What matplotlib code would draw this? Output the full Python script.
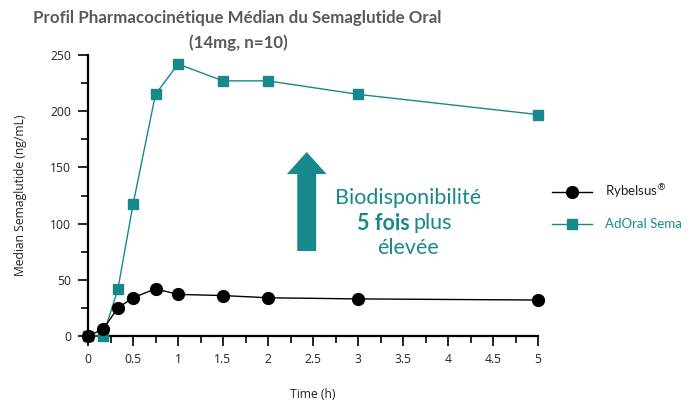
import numpy as np
import matplotlib.pyplot as plt
from matplotlib.patches import FancyArrow

# median PK profile
time_h = [0, 0.167, 0.333, 0.5, 0.75, 1, 1.5, 2, 3, 5]
rybelsus = [0, 6, 25, 34, 42, 37, 36, 34, 33, 32]
adoral = [0, 0, 42, 117, 215, 242, 227, 227, 215, 197]

teal = "#17898d"
title_grey = "#595959"

fig = plt.figure(figsize=(6.92, 4.08), dpi=100)
ax = fig.add_axes([88/692, 72/408, 450/692, 281/408])

ax.plot(time_h, rybelsus, color="black", lw=1, marker="o", ms=8.5,
        label="Rybelsus$^{\u00ae}$", clip_on=False, zorder=4)
ax.plot(time_h, adoral, color=teal, lw=1, marker="s", ms=7.5,
        label="AdOral Sema", clip_on=False, zorder=3)

ax.set_xlim(0, 5)
ax.set_ylim(0, 250)
ax.set_xticks(np.arange(0, 5.01, 0.5))
ax.set_xticklabels(["0", "0.5", "1", "1.5", "2", "2.5", "3", "3.5", "4", "4.5", "5"])
ax.set_xticks(np.arange(0.25, 5, 0.5), minor=True)
ax.set_yticks(np.arange(0, 251, 50))
ax.set_yticks(np.arange(25, 250, 50), minor=True)
for s in ["top", "right"]:
    ax.spines[s].set_visible(False)
for s in ["left", "bottom"]:
    ax.spines[s].set_linewidth(1.6)
ax.tick_params(which="major", length=7, width=1.2, labelsize=8.7, pad=5, colors="black")
ax.tick_params(which="minor", length=5, width=1.2)
for lab in ax.get_xticklabels() + ax.get_yticklabels():
    lab.set_fontfamily("Open Sans")
    lab.set_color("#222222")

ax.set_xlabel("Time (h)", fontsize=8.7, family="Open Sans", labelpad=16, color="#222222")
ax.set_ylabel("Median Semaglutide (ng/mL)", fontsize=8.7, family="Open Sans",
              labelpad=17, color="#222222")

title_kw = dict(ha="center", va="center", fontsize=12.2, fontweight="bold",
                family="Lato", color=title_grey)
fig.text(237/692, 1 - 18/408, "Profil Pharmacocinétique Médian du Semaglutide Oral", **title_kw)
fig.text(238/692, 1 - 43/408, "(14mg, n=10)", **title_kw)

# arrow + callout
ax.add_patch(FancyArrow(2.43, 75.6, 0, 88.1, width=0.21, head_width=0.44,
                        head_length=19.6, length_includes_head=True,
                        color=teal, lw=0, clip_on=False))
ax.text(3.56, 122.7, "Biodisponibilité", ha="center", va="center",
        fontsize=15.5, family="Lato", color=teal)
ax.text(3.57, 100.4, "5 fois", ha="right", va="center",
        fontsize=15.5, family="Lato", fontweight="bold", color=teal)
ax.text(3.62, 100.4, "plus", ha="left", va="center",
        fontsize=15.5, family="Lato", color=teal)
ax.text(3.56, 78.2, "élevée", ha="center", va="center",
        fontsize=15.5, family="Lato", color=teal)

leg = ax.legend(loc="center left", bbox_to_anchor=(1.005, 0.46), frameon=False,
                prop={"family": "Lato", "size": 9.5}, handlelength=3,
                labelspacing=1.3, handletextpad=1.0)
leg.get_texts()[0].set_color("#222222")
leg.get_texts()[1].set_color(teal)

fig.savefig("out.png", dpi=100)
